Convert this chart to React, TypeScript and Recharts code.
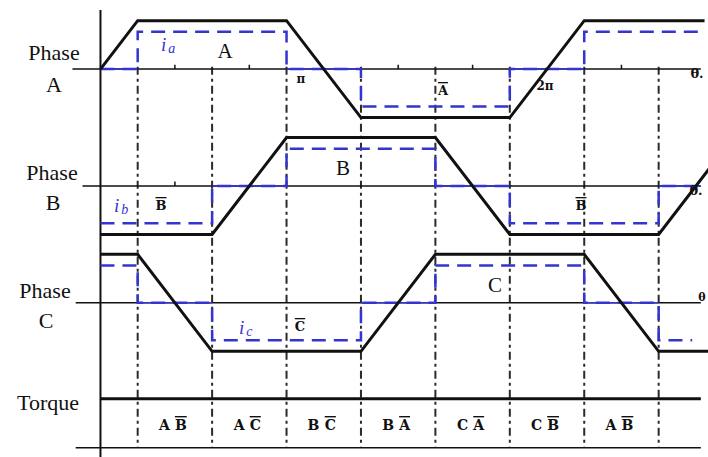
import React from 'react';
import { LineChart, Line, XAxis, YAxis, ReferenceLine } from 'recharts';

// electrical angle (deg) on x, normalised back-EMF / current on y
const EMF_DEG_A = [0, 30, 150, 210, 330, 390, 487];
const EMF_A = [0, 1, 1, -1, -1, 1, 1];
const EMF_DEG_B = [0, 90, 150, 270, 330, 450, 510];
const EMF_B = [-1, -1, 1, 1, -1, -1, 1];
const EMF_DEG_C = [0, 30, 90, 210, 270, 390, 450, 493];
const EMF_C = [1, 1, -1, -1, 1, 1, -1, -1];

const CUR_DEG_A = [0, 30, 30, 150, 150, 210, 210, 330, 330, 390, 390, 487];
const CUR_A = [0, 0, 1, 1, 0, 0, -1, -1, 0, 0, 1, 1];
const CUR_DEG_B = [0, 90, 90, 150, 150, 270, 270, 330, 330, 450, 450, 484];
const CUR_B = [-1, -1, 0, 0, 1, 1, 0, 0, -1, -1, 0, 0];
const CUR_DEG_C = [0, 30, 30, 90, 90, 210, 210, 270, 270, 390, 390, 450, 450, 477];
const CUR_C = [1, 1, 0, 0, -1, -1, 0, 0, 1, 1, 0, 0, -1, -1];

const CURRENT_LEVEL = 0.77;
const SWITCH_DEG = [30, 90, 150, 210, 270, 330, 390, 450];
const TICK_DEG_A = [60, 120, 240, 300, 420];
const TICK_DEG_B = [60];

const TORQUE_CENTERS = [60, 120, 180, 240, 300, 360, 420];
const TORQUE_PAIRS = [
  ['A', 'B'],
  ['A', 'C'],
  ['B', 'C'],
  ['B', 'A'],
  ['C', 'A'],
  ['C', 'B'],
  ['A', 'B'],
];

// layout
const X_MIN = -81;
const X_MAX = 493;
const Y_MIN = -8;
const Y_MAX = 1.24;
const CHART_W = 712;
const CHART_H = 457;
const PX_PER_DEG = CHART_W / (X_MAX - X_MIN);
const degToPx = (d: number) => (d - X_MIN) * PX_PER_DEG;

const OFFSET = { A: 0, B: -2.41, C: -4.82 };
const TORQUE_LEVEL = -6.8;
const BASE_LEVEL = -7.81;
const AXIS_END = 484;

const BLUE = '#3434d0';
const INK = '#111';

const toSeries = (deg: number[], val: number[], off: number, k = 1) =>
  deg.map((x, i) => ({ x, y: val[i] * k + off }));

const zeroRuns = (deg: number[], val: number[]) => {
  const runs: [number, number][] = [];
  for (let i = 0; i < deg.length - 1; i++) {
    if (val[i] === 0 && val[i + 1] === 0 && deg[i + 1] > deg[i]) runs.push([deg[i], deg[i + 1]]);
  }
  return runs;
};

const PHASES = [
  { key: 'A', emf: toSeries(EMF_DEG_A, EMF_A, OFFSET.A), cur: toSeries(CUR_DEG_A, CUR_A, OFFSET.A, CURRENT_LEVEL), zero: zeroRuns(CUR_DEG_A, CUR_A), off: OFFSET.A, axisFrom: -22.6 },
  { key: 'B', emf: toSeries(EMF_DEG_B, EMF_B, OFFSET.B), cur: toSeries(CUR_DEG_B, CUR_B, OFFSET.B, CURRENT_LEVEL), zero: zeroRuns(CUR_DEG_B, CUR_B), off: OFFSET.B, axisFrom: -14.5 },
  { key: 'C', emf: toSeries(EMF_DEG_C, EMF_C, OFFSET.C), cur: toSeries(CUR_DEG_C, CUR_C, OFFSET.C, CURRENT_LEVEL), zero: zeroRuns(CUR_DEG_C, CUR_C), off: OFFSET.C, axisFrom: -20 },
];

const serif = '"Liberation Serif", "DejaVu Serif", serif';
const slab = '"DejaVu Serif", serif';

function Annotations() {
  return (
    <svg
      width={708}
      height={457}
      style={{ position: 'absolute', left: 0, top: 0, pointerEvents: 'none' }}
      fontFamily={serif}
    >
      {/* row labels */}
      <g fontSize={22} fill={INK} textAnchor="middle">
        <text x={54} y={60}>Phase</text>
        <text x={54} y={92}>A</text>
        <text x={52} y={180}>Phase</text>
        <text x={53} y={210}>B</text>
        <text x={45} y={298}>Phase</text>
        <text x={46} y={328}>C</text>
        <text x={48} y={410}>Torque</text>
      </g>

      {/* in-plot labels */}
      <g fill={INK} textAnchor="middle">
        <text x={225} y={58} fontSize={21}>A</text>
        <text x={343} y={175} fontSize={21}>B</text>
        <text x={495} y={292} fontSize={21}>C</text>
      </g>
      <g fill={INK} textAnchor="middle" fontFamily={slab} fontWeight="bold">
        <text x={301} y={83} fontSize={12}>π</text>
        <text x={545} y={90} fontSize={12}>2π</text>
        <text x={443} y={95} fontSize={13} style={{ textDecoration: 'overline' }}>A</text>
        <text x={161} y={210} fontSize={13} style={{ textDecoration: 'overline' }}>B</text>
        <text x={581} y={210} fontSize={13} style={{ textDecoration: 'overline' }}>B</text>
        <text x={300} y={331} fontSize={13} style={{ textDecoration: 'overline' }}>C</text>
        <text x={697} y={78} fontSize={13}>θ.</text>
        <text x={696} y={195} fontSize={13}>θ.</text>
        <text x={702} y={301} fontSize={11}>θ</text>
      </g>

      {/* current labels */}
      <g fill={BLUE} fontStyle="italic" fontSize={19}>
        <text x={161} y={51}>i<tspan fontSize={14} dy={2} dx={2}>a</tspan></text>
        <text x={114} y={212}>i<tspan fontSize={14} dy={2} dx={2}>b</tspan></text>
        <text x={239} y={334}>i<tspan fontSize={14} dy={2} dx={2}>c</tspan></text>
      </g>

      {/* conducting phase pairs */}
      <g fontFamily={slab} fontWeight="bold" fontSize={14} fill={INK} textAnchor="middle">
        {TORQUE_PAIRS.map(([p, n], i) => (
          <text key={i} x={degToPx(TORQUE_CENTERS[i]) - 2} y={430}>
            {p}
            <tspan dx={5} style={{ textDecoration: 'overline' }}>{n}</tspan>
          </text>
        ))}
      </g>
    </svg>
  );
}

export default function App() {
  return (
    <div style={{ position: 'absolute', left: 0, top: 0, width: 708, height: 457, overflow: 'hidden', background: '#fff' }}>
      <LineChart width={CHART_W} height={CHART_H} margin={{ top: 9, right: 0, bottom: 0, left: 0 }}>
        <XAxis type="number" dataKey="x" domain={[X_MIN, X_MAX]} allowDataOverflow hide />
        <YAxis type="number" dataKey="y" domain={[Y_MIN, Y_MAX]} allowDataOverflow hide />

        {/* commutation instants */}
        {SWITCH_DEG.map((d) => (
          <ReferenceLine
            key={`sw${d}`}
            segment={[{ x: d, y: 0.05 }, { x: d, y: BASE_LEVEL }]}
            stroke="#2a2a2a"
            strokeWidth={2}
            strokeDasharray="8 4 3 4"
          />
        ))}

        {/* zero axes */}
        {PHASES.map((p) => (
          <ReferenceLine
            key={`ax${p.key}`}
            segment={[{ x: p.axisFrom, y: p.off }, { x: AXIS_END, y: p.off }]}
            stroke={INK}
            strokeWidth={1.5}
          />
        ))}
        {PHASES.map((p) =>
          p.zero.map(([a, b]) => (
            <ReferenceLine
              key={`z${p.key}${a}`}
              segment={[{ x: a, y: p.off }, { x: b, y: p.off }]}
              stroke={BLUE}
              strokeWidth={1.5}
            />
          ))
        )}
        {TICK_DEG_A.map((d) => (
          <ReferenceLine key={`ta${d}`} segment={[{ x: d, y: OFFSET.A }, { x: d, y: OFFSET.A + 0.09 }]} stroke={INK} strokeWidth={1.5} />
        ))}
        {TICK_DEG_B.map((d) => (
          <ReferenceLine key={`tb${d}`} segment={[{ x: d, y: OFFSET.B }, { x: d, y: OFFSET.B + 0.09 }]} stroke={INK} strokeWidth={1.5} />
        ))}

        {/* torque strip */}
        <ReferenceLine segment={[{ x: 0, y: TORQUE_LEVEL }, { x: AXIS_END, y: TORQUE_LEVEL }]} stroke={INK} strokeWidth={3} />
        <ReferenceLine segment={[{ x: -20, y: BASE_LEVEL }, { x: AXIS_END, y: BASE_LEVEL }]} stroke={INK} strokeWidth={1.5} />
        <ReferenceLine segment={[{ x: 0, y: 1.22 }, { x: 0, y: Y_MIN }]} stroke={INK} strokeWidth={2} />

        {PHASES.map((p) => (
          <Line
            key={`i${p.key}`}
            data={p.cur}
            dataKey="y"
            type="linear"
            stroke={BLUE}
            strokeWidth={2.5}
            strokeDasharray="14 8"
            dot={false}
            isAnimationActive={false}
          />
        ))}
        {PHASES.map((p) => (
          <Line
            key={`e${p.key}`}
            data={p.emf}
            dataKey="y"
            type="linear"
            stroke={INK}
            strokeWidth={3}
            dot={false}
            isAnimationActive={false}
          />
        ))}
      </LineChart>
      <Annotations />
    </div>
  );
}
